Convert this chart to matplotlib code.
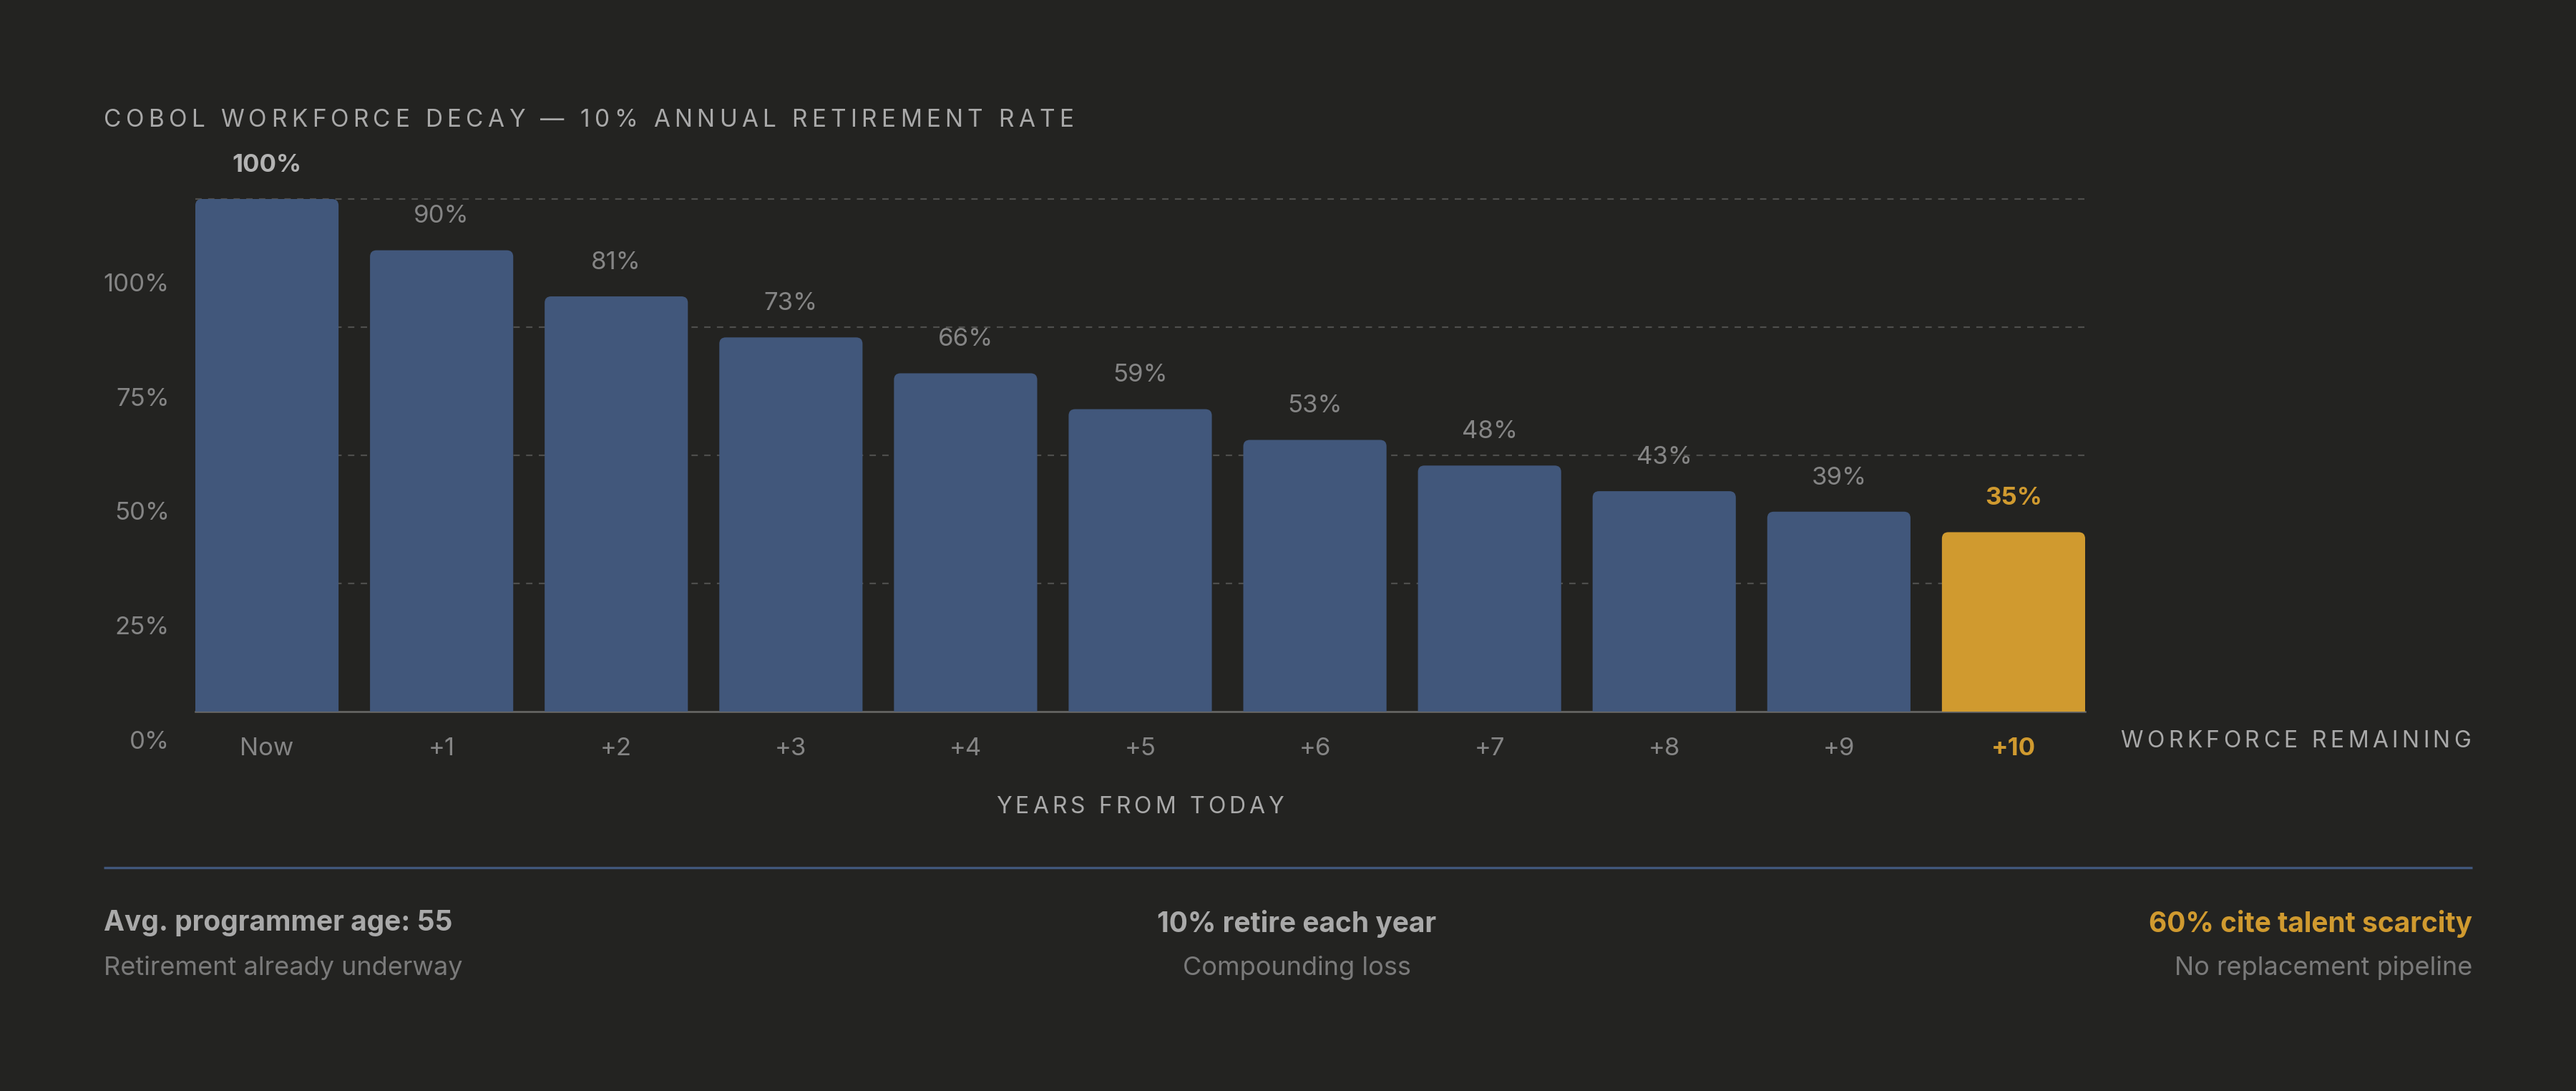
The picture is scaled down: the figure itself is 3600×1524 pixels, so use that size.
import matplotlib
matplotlib.use("Agg")
import matplotlib.pyplot as plt
from matplotlib.patches import FancyBboxPatch
from matplotlib.font_manager import FontProperties
from matplotlib.lines import Line2D

# --- data ---
years = ["Now", "+1", "+2", "+3", "+4", "+5", "+6", "+7", "+8", "+9", "+10"]
remaining = [100, 90, 81, 73, 66, 59, 53, 48, 43, 39, 35]
y_ticks = [0, 25, 50, 75, 100]
y_tick_labels = ["0%", "25%", "50%", "75%", "100%"]
grid_levels = [25, 50, 75, 100]
title = "COBOL WORKFORCE DECAY \u2014 10% ANNUAL RETIREMENT RATE"
stat_heads = ["Avg. programmer age: 55", "10% retire each year", "60% cite talent scarcity"]
stat_subs = ["Retirement already underway", "Compounding loss", "No replacement pipeline"]

W, H, DPI = 3600, 1524, 200
FONT = ["Inter", "DejaVu Sans"]
BG = "#232321"
BLUE = "#41577b"
GOLD = "#d09a2f"
GREY = "#858585"
LIGHT = "#a9a9a9"

plt.rcParams["font.family"] = FONT


def fx(px):
    return px / W


def fy(py):
    return 1 - py / H


fig = plt.figure(figsize=(W / DPI, H / DPI), dpi=DPI, facecolor=BG)
renderer = fig.canvas.get_renderer()


def spaced_text(x, y, s, size, color, spacing=0.18, ha="left", weight="normal"):
    # matplotlib has no letter-spacing, so place char by char
    prop = FontProperties(family=FONT, size=size, weight=weight)

    def width(t):
        return renderer.get_text_width_height_descent(t, prop, ismath=False)[0]

    gap = spacing * size * DPI / 72
    ref = width("x")
    offs = [width(s[:i] + "x") - ref + i * gap for i in range(len(s))]
    total = width(s) + (len(s) - 1) * gap
    if ha == "right":
        x0 = x - total
    elif ha == "center":
        x0 = x - total / 2
    else:
        x0 = x
    for ch, off in zip(s, offs):
        if ch == " ":
            continue
        fig.text(fx(x0 + off), fy(y), ch, fontproperties=prop, color=color,
                 ha="left", va="center")


# main bar axes: bar 0 left edge .. bar 10 right edge, baseline .. 100%
left_px, right_px = 273, 2914
base_px, top_px = 994, 278
ax = fig.add_axes([fx(left_px), fy(base_px), fx(right_px - left_px), (base_px - top_px) / H])
ax.set_facecolor("none")
bw = 0.82
x = list(range(len(years)))
ax.set_xlim(-bw / 2, len(years) - 1 + bw / 2)
ax.set_ylim(0, 100)

colors = [BLUE] * (len(years) - 1) + [GOLD]
bars = ax.bar(x, remaining, width=bw, color=colors, zorder=3)

# rounded tops
xr = (len(years) - 1 + bw) / (right_px - left_px)
yr = 100 / (base_px - top_px)
rad = 9 * xr
aspect = yr / xr
for b in bars:
    b.set_visible(False)
    p = FancyBboxPatch((b.get_x(), -5), b.get_width(), b.get_height() + 5,
                       boxstyle=f"round,pad=0,rounding_size={rad}",
                       mutation_aspect=aspect, fc=b.get_facecolor(), ec="none", zorder=3)
    ax.add_patch(p)

for lv in grid_levels:
    ax.axhline(lv, color="#4e4e4c", lw=0.8, dashes=(4, 4), zorder=1, clip_on=False)
ax.axhline(0, color="#6a6a68", lw=0.9, zorder=1, clip_on=False)

for i, v in enumerate(remaining):
    col, wt = GREY, "normal"
    if i == 0:
        col, wt = "#b3b3b3", "bold"
    if i == len(remaining) - 1:
        col, wt = GOLD, "bold"
    ax.annotate(f"{v}%", (i, v), xytext=(0, 17), textcoords="offset points",
                ha="center", va="center", fontsize=12.5, color=col, weight=wt,
                annotation_clip=False)

ax.set_xticks(x, years)
ax.tick_params(axis="x", length=0, pad=13, labelsize=12.5, labelcolor=GREY)
xl = ax.get_xticklabels()
xl[-1].set_color(GOLD)
xl[-1].set_fontweight("bold")
ax.set_yticks([])
for sp in ax.spines.values():
    sp.set_visible(False)

# y labels sit on their own scale in the original (offset from the grid)
ay = fig.add_axes([fx(left_px), fy(1033), fx(right_px - left_px), (1033 - 395) / H])
ay.set_facecolor("none")
ay.set_ylim(0, 100)
ay.set_yticks(y_ticks, y_tick_labels)
ay.set_xticks([])
ay.tick_params(axis="y", length=0, pad=13, labelsize=12.5, labelcolor=GREY)
for sp in ay.spines.values():
    sp.set_visible(False)
ay.set_zorder(-1)

spaced_text(145, 168, title, 12, LIGHT, spacing=0.19)
spaced_text(1593, 1127, "YEARS FROM TODAY", 11.5, LIGHT, spacing=0.16, ha="center")
spaced_text(3453, 1036, "WORKFORCE REMAINING", 11.5, LIGHT, spacing=0.17, ha="right")

fig.add_artist(Line2D([fx(145), fx(3455)], [fy(1212), fy(1212)], color="#41577b",
                      lw=1.2, solid_capstyle="butt"))

stat_x = [145, 1812, 3455]
stat_ha = ["left", "center", "right"]
head_cols = [LIGHT, LIGHT, GOLD]
for sx, ha, hc, head, sub in zip(stat_x, stat_ha, head_cols, stat_heads, stat_subs):
    fig.text(fx(sx), fy(1290), head, ha=ha, va="center", fontsize=14, weight="bold", color=hc)
    fig.text(fx(sx), fy(1352), sub, ha=ha, va="center", fontsize=13, color="#7a7a7a")

fig.savefig("out.png", dpi=DPI, facecolor=BG)
